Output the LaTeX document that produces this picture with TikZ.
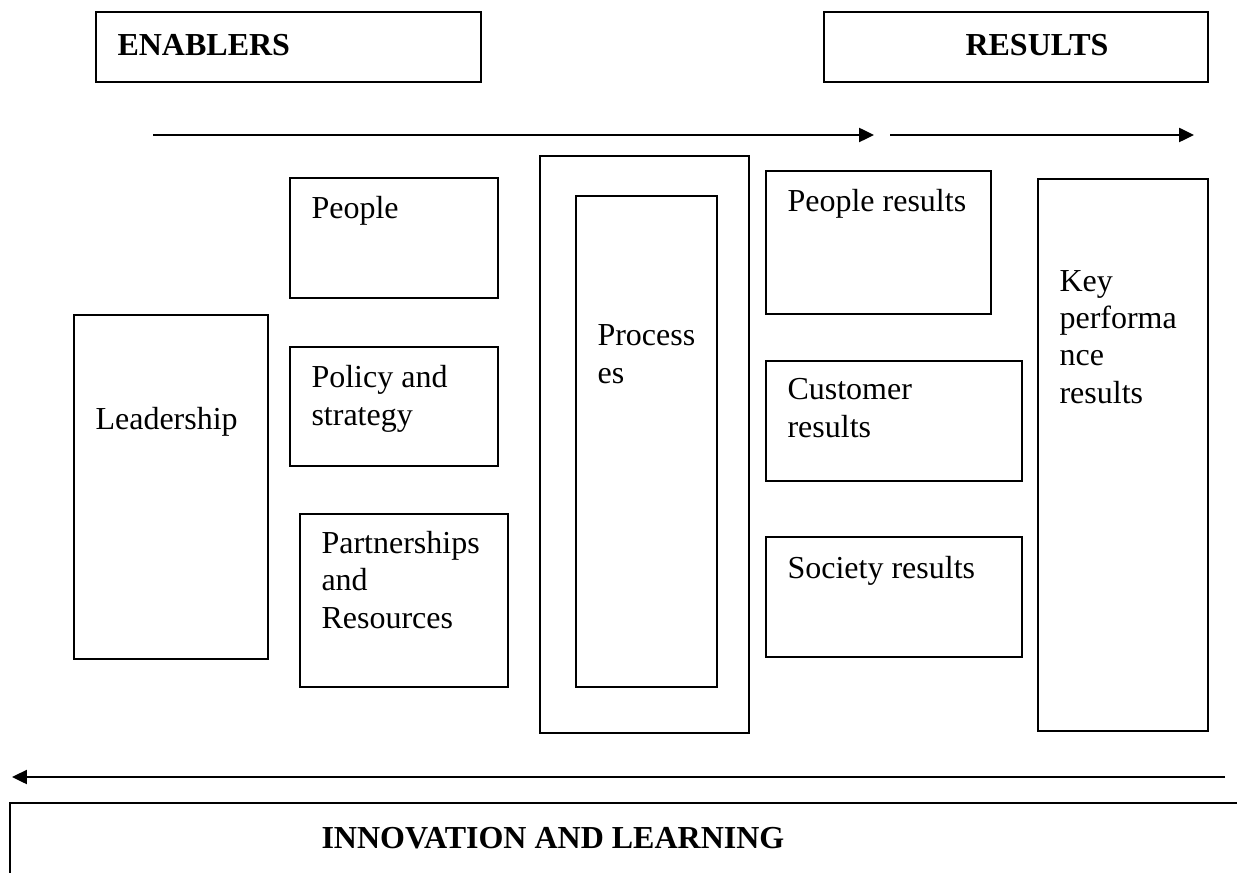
\documentclass[tikz,border=0pt]{standalone}
\usepackage{fontspec}
\setmainfont{Liberation Serif}
\usetikzlibrary{arrows.meta,fit}

\begin{document}
\begin{tikzpicture}[x=0.375pt,y=-0.375pt,
    box/.style={draw,line width=0.75pt,inner sep=0pt},
    lbl/.style={inner sep=0pt,anchor=base west,align=left,font=\fontsize{12}{13.9}\selectfont},
    head/.style={lbl,font=\fontsize{12}{13.9}\selectfont\bfseries},
    flow/.style={line width=1pt,-{Triangle[length=5.6pt,width=5.2pt]}}]
    \useasboundingbox (0,0) rectangle (1237,873);
    \clip (0,0) rectangle (1237,873);
    % header boxes
    \node[box,fit={(96,12) (481,82)}] (enab) {};
    \node[head] (enabtxt) at (117,56) {ENABLERS};
    \node[box,fit={(824,12) (1208,82)}] (res) {};
    \node[head] (restxt) at (965,56) {RESULTS};
    \coordinate (f1) at (153,135);
    \coordinate (f2) at (874,135);
    \coordinate (f3) at (890,135);
    \coordinate (f4) at (1194,135);
    \draw[flow] (f1) -- (f2);
    \draw[flow] (f3) -- (f4);
    % enablers (multi-line labels sit on their last baseline)
    \node[box,fit={(74,315) (268,659)}] (lead) {};
    \node[lbl] (leadtxt) at (95,429) {Leadership};
    \node[box,fit={(290,178) (498,298)}] (ppl) {};
    \node[lbl] (ppltxt) at (311,219) {People};
    \node[box,fit={(290,347) (498,466)}] (pol) {};
    \node[lbl] (poltxt) at (311,425) {Policy and\\strategy};
    \node[box,fit={(300,514) (508,687)}] (part) {};
    \node[lbl] (parttxt) at (321,628) {Partnerships\\and\\Resources};
    \node[box,fit={(540,156) (749,733)}] (proc) {};
    \node[box,fit={(576,196) (717,687)}] (procin) {};
    \node[lbl] (proctxt) at (597,383) {Process\\es};
    % results
    \node[box,fit={(766,171) (991,314)}] (pres) {};
    \node[lbl] (prestxt) at (787,212) {People results};
    \node[box,fit={(766,361) (1022,481)}] (cres) {};
    \node[lbl] (crestxt) at (787,437) {Customer\\results};
    \node[box,fit={(766,537) (1022,657)}] (sres) {};
    \node[lbl] (srestxt) at (787,578) {Society results};
    \node[box,fit={(1038,179) (1208,731)}] (kpr) {};
    \node[lbl] (kprtxt) at (1059,403) {Key\\performa\\nce\\results};
    % feedback
    \coordinate (b1) at (1225,777);
    \coordinate (b2) at (12,777);
    \draw[flow] (b1) -- (b2);
    \node[box,fit={(10,803) (1260,900)}] (innov) {};
    \node[head] (innovtxt) at (321,848) {INNOVATION AND LEARNING};
\end{tikzpicture}
\end{document}
